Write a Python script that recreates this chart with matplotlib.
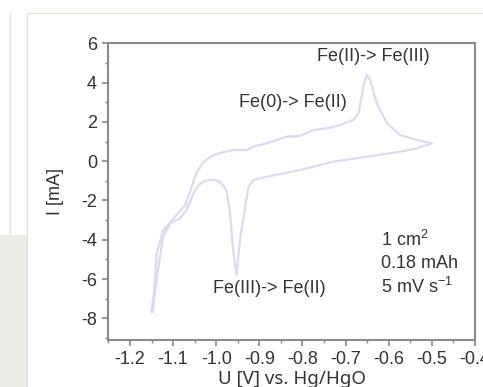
import matplotlib.pyplot as plt
from matplotlib.patches import Rectangle
from matplotlib.lines import Line2D
from matplotlib.ticker import MultipleLocator

# anodic sweep (-1.15 V -> -0.5 V)
u_fwd = [-1.150, -1.144, -1.138, -1.123, -1.099, -1.072, -1.057, -1.045, -1.030, -1.015,
         -1.000, -0.980, -0.960, -0.929, -0.914, -0.883, -0.836, -0.806, -0.775, -0.744,
         -0.713, -0.682, -0.670, -0.659, -0.651, -0.643, -0.628, -0.604, -0.574, -0.535, -0.500]
i_fwd = [-7.66, -6.56, -4.69, -3.50, -2.91, -2.23, -1.30, -0.55, -0.05, 0.20,
         0.36, 0.48, 0.57, 0.57, 0.74, 0.91, 1.25, 1.28, 1.59, 1.67,
         1.84, 2.10, 2.44, 3.79, 4.39, 4.13, 2.95, 1.93, 1.33, 1.08, 0.91]
# cathodic sweep (-0.5 V -> -1.15 V)
u_back = [-0.500, -0.535, -0.574, -0.651, -0.728, -0.806, -0.883, -0.914, -0.925,
          -0.933, -0.945, -0.953, -0.960, -0.968, -0.976, -0.991, -1.002, -1.014, -1.028,
          -1.040, -1.053, -1.069, -1.084, -1.107, -1.123, -1.134, -1.142, -1.147]
i_back = [0.91, 0.65, 0.48, 0.23, -0.02, -0.45, -0.79, -0.96, -1.30,
          -2.32, -4.01, -5.79, -4.69, -2.65, -1.47, -1.06, -0.96, -0.95, -1.02,
          -1.20, -1.64, -2.48, -2.91, -3.16, -3.84, -5.37, -6.73, -7.66]

xticks = [-1.2, -1.1, -1.0, -0.9, -0.8, -0.7, -0.6, -0.5, -0.4]
xlabels = ['-1.2', '-1.1', '-1.0', '-0.9', '-0.8', '-0.7', '-0.6', '-0.5', '-0.4']
yticks = [6, 4, 2, 0, -2, -4, -6, -8]

plt.rcParams['font.family'] = ['Liberation Sans', 'DejaVu Sans']
plt.rcParams['axes.unicode_minus'] = False
txt = '#333333'

fig = plt.figure(figsize=(4.83, 3.87), dpi=100)

# page decoration around the chart
fig.patches.append(Rectangle((0, 0), 27/483, 1 - 235/387, transform=fig.transFigure,
                             facecolor='#ecebe6', edgecolor='none', zorder=-2))
fig.lines.append(Line2D([10/483, 10/483], [0, 1 - 13/387], transform=fig.transFigure,
                        color='#e6e4d8', lw=1, zorder=-2))
fig.patches.append(Rectangle((27/483, -0.1), 1, 1.1 - 13/387, transform=fig.transFigure,
                             facecolor='white', edgecolor='#e6e4d8', lw=1, zorder=-1))

ax = fig.add_axes([108/483, 1 - 340/387, 367/483, (340 - 43.3)/387])
ax.set_zorder(1)
ax.plot(u_fwd + u_back, i_fwd + i_back, color='#d8dcee', lw=1.6,
        solid_joinstyle='round')

ax.set_xlim(-1.251, -0.4)
ax.set_ylim(-9.1, 6)
ax.set_xticks(xticks)
ax.set_xticklabels(xlabels)
ax.set_yticks(yticks)
ax.xaxis.set_minor_locator(MultipleLocator(0.05))
ax.yaxis.set_minor_locator(MultipleLocator(1))
ax.tick_params(which='both', direction='out', color='#888888', labelcolor=txt,
               labelsize=13)
ax.tick_params(which='major', length=4, width=1.2, pad=4)
ax.tick_params(which='minor', length=2.5, width=1)
for s in ax.spines.values():
    s.set_color('#8a8a8a')
    s.set_linewidth(1.5)

ax.set_xlabel('U [V] vs. Hg/HgO', fontsize=13.5, color=txt, labelpad=1,
              family=['Noto Sans', 'DejaVu Sans'])
ax.set_ylabel('I [mA]', fontsize=13, color=txt, labelpad=12)

ax.text(-0.635, 5.35, 'Fe(II)-> Fe(III)', fontsize=13, color=txt, ha='center', va='center')
ax.text(-0.822, 2.98, 'Fe(0)-> Fe(II)', fontsize=13, color=txt, ha='center', va='center')
ax.text(-0.878, -6.5, 'Fe(III)-> Fe(II)', fontsize=13, color=txt, ha='center', va='center')
ax.text(-0.617, -4.0, '1 cm$^\\mathregular{2}$', fontsize=13, color=txt, ha='left', va='center')
ax.text(-0.617, -5.2, '0.18 mAh', fontsize=13, color=txt, ha='left', va='center')
ax.text(-0.617, -6.4, '5 mV s$^\\mathregular{-1}$', fontsize=13, color=txt, ha='left', va='center')

fig.savefig('out.png', dpi=100)
